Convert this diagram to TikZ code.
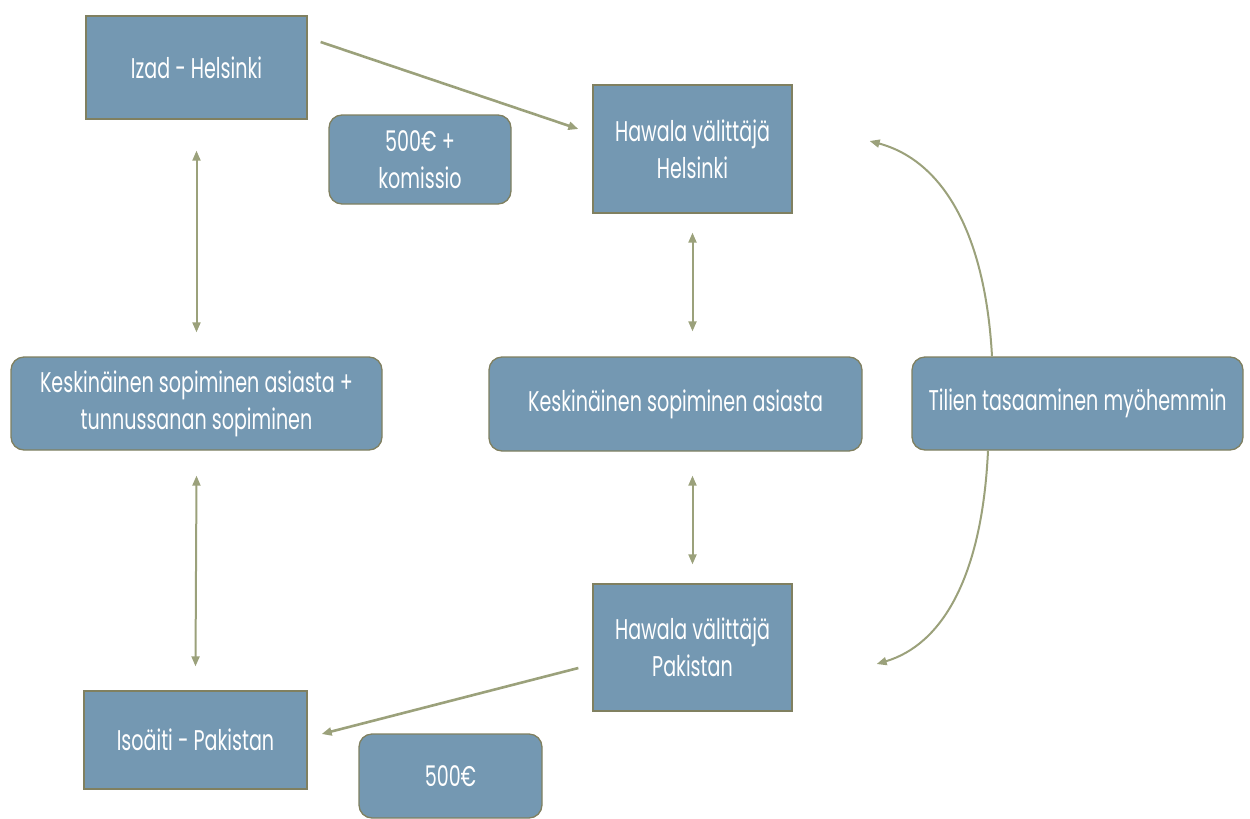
\documentclass[tikz,border=0pt]{standalone}
\usepackage{fontspec}
\setmainfont{Poppins}[FakeStretch=0.67]
\usetikzlibrary{arrows.meta}
\definecolor{boxfill}{RGB}{116,152,178}
\definecolor{boxline}{RGB}{128,128,96}
\definecolor{arrowcol}{RGB}{155,161,123}
\begin{document}
\begin{tikzpicture}[x=1pt,y=-1pt,
  sqbox/.style={draw=boxline,line width=1.3pt,fill=boxfill,text=white,inner sep=0pt,align=center,
    font=\fontsize{28.5}{37}\selectfont},
  rbox/.style={sqbox,rounded corners=13pt},
  conn/.style={draw=arrowcol,line width=2pt,-{Triangle[length=10pt,width=8pt]}},
  dconn/.style={draw=arrowcol,line width=2pt,{Triangle[length=10pt,width=8pt]}-{Triangle[length=10pt,width=8pt]}},
  thick conn/.style={conn,line width=2.6pt}]
\useasboundingbox (0,0) rectangle (1250,819);
\node[sqbox,minimum width=221pt,minimum height=103pt] (izad) at (196.5,67.5) {Izad - Helsinki};
\node[rbox,minimum width=182pt,minimum height=89pt] (komissio) at (420,159.5) {500€ +\\komissio};
\node[sqbox,minimum width=199pt,minimum height=128pt] (hhel) at (692.5,149) {Hawala välittäjä\\Helsinki};
\node[rbox,minimum width=371pt,minimum height=93pt] (kesL) at (196.5,403.5) {Keskinäinen sopiminen asiasta +\\tunnussanan sopiminen};
\node[rbox,minimum width=373pt,minimum height=94pt] (kesM) at (675.5,404) {Keskinäinen sopiminen asiasta};
\node[rbox,minimum width=331pt,minimum height=93pt] (tilien) at (1077.5,403.5) {Tilien tasaaminen myöhemmin};
\node[sqbox,minimum width=199pt,minimum height=127pt] (hpak) at (692.5,647.5) {Hawala välittäjä\\Pakistan};
\node[sqbox,minimum width=223pt,minimum height=98pt] (iso) at (195.5,740) {Isoäiti - Pakistan};
\node[rbox,minimum width=183pt,minimum height=84pt] (e500) at (450.5,776) {500€};
\coordinate (m1) at (hhel.south |- kesM.north);
\coordinate (m2) at (hhel.south |- kesM.south);
% connectors
\draw[thick conn] ([xshift=13pt,yshift=25.5pt]izad.east) -- ([xshift=-14pt,yshift=20pt]hhel.west);
\draw[thick conn] ([xshift=-14pt,yshift=-20.5pt]hpak.west) -- ([xshift=14pt,yshift=6pt]iso.east);
\draw[dconn] ([yshift=-31pt]izad.south) -- ([yshift=24pt]kesL.north);
\draw[dconn] ([yshift=-25pt]kesL.south) -- ([yshift=24pt]iso.north);
\draw[dconn] ([yshift=-19pt]hhel.south) -- ([yshift=25pt]m1);
\draw[dconn] ([yshift=-24pt]m2) -- ([yshift=19pt]hpak.north);
\draw[conn] ([xshift=-85.5pt]tilien.north) .. controls +(-7,-127) and +(71,19) .. ([xshift=77pt,yshift=8pt]hhel.east);
\draw[conn] ([xshift=-89.5pt]tilien.south) .. controls +(-6,129) and +(64,-19) .. ([xshift=84pt,yshift=-16.5pt]hpak.east);
\end{tikzpicture}
\end{document}
